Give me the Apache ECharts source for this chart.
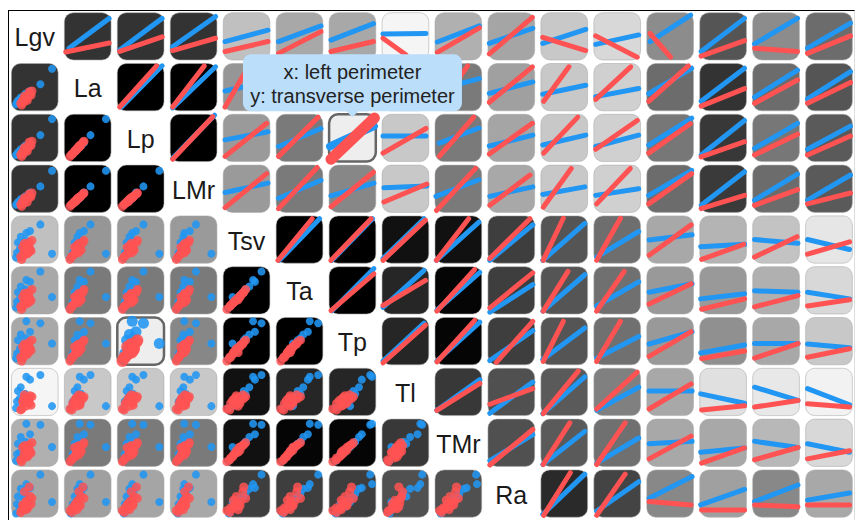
<!DOCTYPE html>
<html>
<head>
<meta charset="utf-8">
<script src="https://cdn.jsdelivr.net/npm/echarts@6/dist/echarts.min.js"></script>
<style>
  html, body { margin: 0; padding: 0; background: #fff; }
  #frame { position: absolute; left: 8px; top: 10px; width: 845px; height: 520px;
           border-top: 1px solid #000; border-left: 1px solid #000; border-right: 1px solid #ddd; }
  #chart { position: absolute; left: 0; top: 0; width: 856px; height: 520px; }
</style>
</head>
<body>
<div id="frame"></div>
<div id="chart"></div>
<script>
// Variables shown on the diagonal
const varNames = ['Lgv', 'La', 'Lp', 'LMr', 'Tsv', 'Ta', 'Tp', 'Tl', 'TMr', 'Ra'];

// Specimens of the first group (blue), one row per specimen, columns follow varNames
const bluePoints = [
  [87, 89, 90, 88, 20, 36, 45, 20, 41, 32],
  [62, 56, 56, 55, 82, 90, 88, 86, 88, 90],
  [32, 33, 32, 30, 64, 72, 92, 82, 90, 70],
  [40, 42, 40, 42, 68, 68, 70, 76, 68, 62],
  [20, 28, 26, 28, 56, 58, 64, 60, 62, 60],
  [14, 22, 20, 22, 44, 46, 52, 52, 48, 44],
  [26, 30, 30, 28, 36, 40, 42, 40, 40, 40],
  [12, 18, 16, 18, 22, 26, 24, 30, 26, 28],
  [18, 24, 22, 24, 30, 32, 34, 36, 30, 22],
  [10, 14, 14, 16, 12, 14, 14, 16, 12, 8],
  [30, 36, 34, 34, 48, 52, 56, 46, 52, 50]
];

// Specimens of the second group (red)
const redPoints = [
  [30, 26, 25, 26, 30, 32, 30, 38, 34, 30],
  [36, 30, 31, 30, 22, 24, 26, 28, 24, 36],
  [24, 22, 21, 23, 34, 36, 38, 30, 40, 26],
  [40, 36, 36, 35, 28, 30, 34, 42, 32, 44],
  [26, 18, 17, 19, 16, 18, 16, 26, 18, 20],
  [38, 40, 41, 39, 44, 46, 48, 36, 46, 64],
  [32, 28, 28, 29, 38, 40, 42, 34, 42, 34],
  [22, 12, 11, 13, 8, 10, 8, 14, 10, 14],
  [42, 33, 34, 33, 26, 28, 30, 22, 28, 28],
  [28, 31, 30, 31, 42, 44, 44, 44, 44, 54],
  [34, 22, 22, 22, 20, 22, 22, 32, 20, 18],
  [44, 42, 43, 41, 48, 52, 52, 40, 50, 40],
  [20, 16, 15, 17, 14, 16, 16, 12, 14, 10],
  [38, 34, 33, 33, 36, 36, 38, 26, 34, 24],
  [27, 25, 25, 24, 24, 26, 28, 36, 26, 22],
  [31, 27, 26, 28, 32, 30, 26, 20, 30, 16]
];

// Fitted lines per upper cell, [x0, y0, x1, y1] in unit cell coordinates,
// one row per variable, cells to the right of the diagonal
const blueFits = [
  [[.10,.25,.96,.88],[.05,.21,.96,.88],[.05,.28,.97,.92],[.04,.39,.96,.63],[.05,.39,.96,.72],[.04,.42,.95,.77],[.02,.55,.94,.56],[.05,.38,.95,.72],[.03,.35,.96,.67],[.04,.35,.96,.65],[.04,.33,.96,.53],[.07,.39,.94,.95],[.03,.18,.96,.88],[.04,.34,.96,.88],[.04,.25,.96,.78]],
  [[.09,.08,.96,.95],[.05,.06,.97,.93],[.04,.42,.96,.62],[.05,.32,.96,.68],[.04,.34,.96,.66],[.04,.54,.96,.54],[.05,.45,.95,.68],[.03,.37,.96,.61],[.04,.35,.96,.54],[.04,.30,.96,.47],[.04,.36,.96,.90],[.03,.20,.96,.90],[.04,.29,.96,.86],[.04,.25,.96,.83]],
  [[.05,.07,.95,.98],[.04,.46,.96,.63],[.05,.32,.96,.70],[.02,.32,.96,.75],[.02,.54,.94,.54],[.09,.39,.94,.71],[.03,.33,.96,.56],[.04,.35,.96,.56],[.04,.32,.96,.56],[.04,.35,.96,.92],[.03,.14,.96,.87],[.04,.28,.96,.81],[.04,.26,.96,.75]],
  [[.04,.42,.96,.62],[.05,.30,.96,.68],[.04,.35,.96,.62],[.04,.52,.96,.56],[.02,.34,.94,.69],[.04,.34,.96,.54],[.04,.38,.94,.54],[.04,.36,.96,.50],[.04,.36,.96,.89],[.03,.15,.96,.86],[.04,.26,.96,.81],[.04,.26,.96,.79]],
  [[.07,.06,.93,.94],[.06,.06,.93,.94],[.02,.10,.90,.94],[.03,.06,.94,.87],[.04,.06,.96,.81],[.04,.06,.94,.84],[.06,.13,.96,.67],[.05,.49,.97,.60],[.02,.35,.96,.40],[.04,.50,.97,.42],[.04,.50,.94,.29]],
  [[.06,.07,.96,.96],[.02,.14,.90,.92],[.04,.08,.96,.88],[.04,.04,.96,.62],[.04,.06,.94,.83],[.06,.17,.96,.68],[.05,.46,.97,.64],[.02,.32,.96,.43],[.04,.49,.97,.46],[.04,.46,.94,.32]],
  [[.02,.08,.90,.88],[.04,.08,.96,.90],[.04,.09,.96,.72],[.04,.11,.94,.78],[.06,.14,.96,.60],[.05,.44,.97,.70],[.02,.25,.96,.42],[.04,.45,.97,.45],[.04,.44,.94,.36]],
  [[.04,.11,.96,.76],[.04,.05,.96,.71],[.04,.04,.94,.82],[.06,.11,.96,.60],[.05,.52,.97,.52],[.02,.46,.96,.26],[.04,.60,.97,.32],[.04,.57,.94,.23]],
  [[.04,.12,.96,.67],[.04,.04,.94,.74],[.06,.07,.96,.60],[.05,.48,.97,.53],[.02,.30,.96,.39],[.04,.53,.97,.40],[.04,.48,.94,.30]],
  [[.04,.06,.94,.91],[.06,.13,.96,.75],[.05,.40,.97,.86],[.02,.26,.96,.59],[.04,.33,.97,.68],[.04,.36,.94,.51]]
];

const redFits = [
  [[.03,.17,.96,.36],[.05,.18,.96,.49],[.05,.20,.97,.46],[.04,.18,.96,.39],[.05,.14,.96,.60],[.04,.18,.95,.39],[.02,.46,.51,.11],[.05,.16,.95,.68],[.03,.13,.95,.90],[.04,.48,.96,.20],[.04,.51,.93,.06],[.07,.56,.51,.06],[.03,.08,.96,.41],[.04,.25,.96,.18],[.04,.14,.96,.51]],
  [[.05,.08,.84,.95],[.05,.08,.73,.95],[.04,.08,.55,.95],[.05,.10,.88,.94],[.04,.08,.95,.90],[.04,.18,.96,.68],[.05,.05,.70,.95],[.03,.18,.95,.93],[.06,.20,.60,.93],[.04,.24,.79,.93],[.04,.20,.89,.95],[.03,.10,.96,.47],[.04,.16,.96,.65],[.04,.16,.96,.60]],
  [[.05,.05,.91,.95],[.04,.11,.93,.81],[.05,.11,.90,.94],[.04,.05,.97,.92],[.02,.18,.94,.70],[.09,.11,.83,.94],[.03,.16,.95,.81],[.06,.18,.79,.94],[.04,.26,.93,.87],[.04,.18,.93,.80],[.03,.10,.96,.42],[.04,.14,.96,.58],[.04,.14,.96,.54]],
  [[.04,.10,.93,.82],[.05,.08,.88,.95],[.04,.12,.95,.85],[.04,.22,.96,.60],[.03,.04,.87,.93],[.04,.15,.90,.79],[.05,.11,.65,.93],[.06,.18,.78,.93],[.04,.18,.96,.82],[.03,.08,.96,.36],[.04,.15,.96,.48],[.04,.18,.96,.41]],
  [[.04,.06,.77,.94],[.04,.06,.90,.94],[.02,.06,.93,.91],[.03,.06,.72,.94],[.04,.10,.90,.94],[.05,.06,.48,.95],[.06,.06,.57,.95],[.05,.17,.95,.81],[.04,.08,.94,.40],[.04,.13,.95,.56],[.04,.19,.94,.45]],
  [[.04,.07,.96,.85],[.02,.18,.93,.71],[.04,.06,.85,.94],[.04,.13,.96,.87],[.05,.06,.58,.90],[.06,.06,.65,.90],[.05,.21,.95,.64],[.04,.10,.96,.32],[.04,.15,.97,.39],[.04,.17,.94,.30]],
  [[.02,.04,.93,.84],[.04,.06,.85,.94],[.18,.05,.96,.92],[.05,.07,.48,.92],[.06,.07,.57,.92],[.05,.18,.95,.70],[.04,.13,.96,.29],[.04,.14,.97,.45],[.04,.16,.94,.34]],
  [[.04,.11,.96,.68],[.04,.24,.96,.57],[.05,.04,.80,.94],[.06,.14,.93,.92],[.05,.14,.95,.67],[.04,.12,.96,.21],[.04,.18,.97,.32],[.04,.25,.94,.18]],
  [[.04,.03,.96,.78],[.05,.04,.62,.92],[.06,.04,.67,.92],[.05,.16,.95,.64],[.04,.07,.96,.39],[.04,.14,.97,.40],[.04,.16,.94,.33]],
  [[.06,.04,.63,.94],[.06,.04,.67,.91],[.05,.33,.95,.26],[.04,.15,.96,.15],[.04,.26,.97,.22],[.04,.26,.94,.26]]
];

// Cell shading (grey level, 0 = strongest association), cells right of the diagonal
const cellShade = [
  [51, 51, 51, 192, 168, 168, 245, 176, 165, 200, 216, 140, 85, 140, 108],
  [0, 0, 150, 122, 128, 200, 122, 160, 200, 208, 108, 51, 108, 85],
  [0, 154, 122, 128, 200, 122, 165, 200, 208, 119, 56, 119, 90],
  [154, 122, 135, 200, 122, 168, 200, 208, 108, 58, 108, 90],
  [0, 0, 17, 17, 62, 85, 110, 168, 180, 195, 230],
  [0, 38, 5, 62, 85, 112, 153, 153, 176, 216],
  [38, 5, 62, 85, 112, 153, 144, 168, 200],
  [56, 80, 90, 128, 168, 224, 232, 242],
  [80, 90, 112, 168, 168, 184, 216],
  [42, 68, 136, 160, 136, 168]
];

// Pair currently hovered (Lp against Tp)
const hoverPair = [2, 6];
const hoverText = 'x: left perimeter\ny: transverse perimeter';

const BLUE = '#2196f3';
const RED = '#ff5252';
const N_ROWS = 10, N_COLS = 16;
const LEFT = 11.4, STEP_X = 52.95, TOP = 12.7, STEP_Y = 50.8, CELL_W = 46.7, CELL_H = 47.3;

function cellBox(r, c) {
  return { x: LEFT + c * STEP_X, y: TOP + r * STEP_Y, w: CELL_W, h: CELL_H };
}
function grey(v) { return 'rgb(' + v + ',' + v + ',' + v + ')'; }

const grids = [], xAxes = [], yAxes = [], series = [], elements = [];
let gi = 0;

for (let r = 0; r < N_ROWS; r++) {
  for (let c = 0; c < N_COLS; c++) {
    const b = cellBox(r, c);
    if (r === c) {
      elements.push({
        type: 'text', z: 10, silent: true,
        style: { text: varNames[r], x: b.x + b.w / 2, y: b.y + b.h / 2 + 1,
                 align: 'center', verticalAlign: 'middle',
                 fontSize: 25, fontFamily: '"Liberation Sans", Arial, sans-serif', fill: '#1a1a1a' }
      });
      continue;
    }
    const upper = c > r;
    const hover = (r === hoverPair[0] && c === hoverPair[1]) || (r === hoverPair[1] && c === hoverPair[0]);
    const shade = upper ? cellShade[r][c - r - 1] : cellShade[c][r - c - 1];
    elements.push({
      type: 'rect', z: 0, silent: true,
      shape: { x: b.x, y: b.y, width: b.w, height: b.h, r: 9 },
      style: { fill: hover ? '#eeeeee' : grey(shade),
               stroke: hover ? '#666666' : 'rgba(170,170,170,0.55)', lineWidth: hover ? 2.5 : 1 }
    });
    grids.push({ left: b.x, top: b.y, width: b.w, height: b.h, show: false });
    if (upper) {
      xAxes.push({ gridIndex: gi, type: 'value', min: 0, max: 1, show: false });
      yAxes.push({ gridIndex: gi, type: 'value', min: 0, max: 1, show: false });
      const bl = blueFits[r][c - r - 1], rd = redFits[r][c - r - 1];
      series.push({
        type: 'line', xAxisIndex: gi, yAxisIndex: gi, silent: true, clip: false, z: 2,
        symbol: 'none', data: [[bl[0], bl[1]], [bl[2], bl[3]]],
        lineStyle: { color: BLUE, width: hover ? 8 : 5, cap: 'round' }
      });
      series.push({
        type: 'line', xAxisIndex: gi, yAxisIndex: gi, silent: true, clip: false, z: 3,
        symbol: 'none', data: [[rd[0], rd[1]], [rd[2], rd[3]]],
        lineStyle: { color: RED, width: hover ? 11 : 5, cap: 'round' }
      });
    } else {
      // x = column variable, y = row variable
      xAxes.push({ gridIndex: gi, type: 'value', min: 0, max: 100, show: false });
      yAxes.push({ gridIndex: gi, type: 'value', min: 0, max: 100, show: false });
      series.push({
        type: 'scatter', xAxisIndex: gi, yAxisIndex: gi, silent: true, clip: false, z: 2,
        symbolSize: hover ? 11 : 8,
        data: bluePoints.map(p => [p[c], p[r]]),
        itemStyle: { color: BLUE, opacity: 0.88 }
      });
      series.push({
        type: 'scatter', xAxisIndex: gi, yAxisIndex: gi, silent: true, clip: false, z: 3,
        symbolSize: hover ? 12 : 9,
        data: redPoints.map(p => [p[c], p[r]]),
        itemStyle: { color: RED, opacity: 0.85 }
      });
    }
    gi++;
  }
}

// Hover label over the highlighted cell
const hb = cellBox(hoverPair[0], hoverPair[1]);
const tipW = 219, tipH = 57;
const tipX = hb.x + hb.w / 2 - tipW / 2, tipY = hb.y - tipH - 3;
elements.push({
  type: 'group', z: 100, silent: true,
  children: [
    { type: 'rect', z: 100, shape: { x: tipX, y: tipY, width: tipW, height: tipH, r: 8 },
      style: { fill: '#bbdefb' } },
    { type: 'polygon', z: 100,
      shape: { points: [[hb.x + hb.w / 2 - 7, tipY + tipH - 1], [hb.x + hb.w / 2 + 7, tipY + tipH - 1], [hb.x + hb.w / 2, tipY + tipH + 6]] },
      style: { fill: '#bbdefb' } },
    { type: 'text', z: 101,
      style: { text: hoverText, x: tipX + tipW / 2, y: tipY + tipH / 2 + 1,
               align: 'center', verticalAlign: 'middle', lineHeight: 24,
               fontSize: 20, fontFamily: '"Liberation Sans", Arial, sans-serif', fill: '#222' } }
  ]
});

const chart = echarts.init(document.getElementById('chart'), null, { renderer: 'svg' });
chart.setOption({
  animation: false,
  grid: grids,
  xAxis: xAxes,
  yAxis: yAxes,
  series: series,
  graphic: { elements: elements }
});
</script>
</body>
</html>
